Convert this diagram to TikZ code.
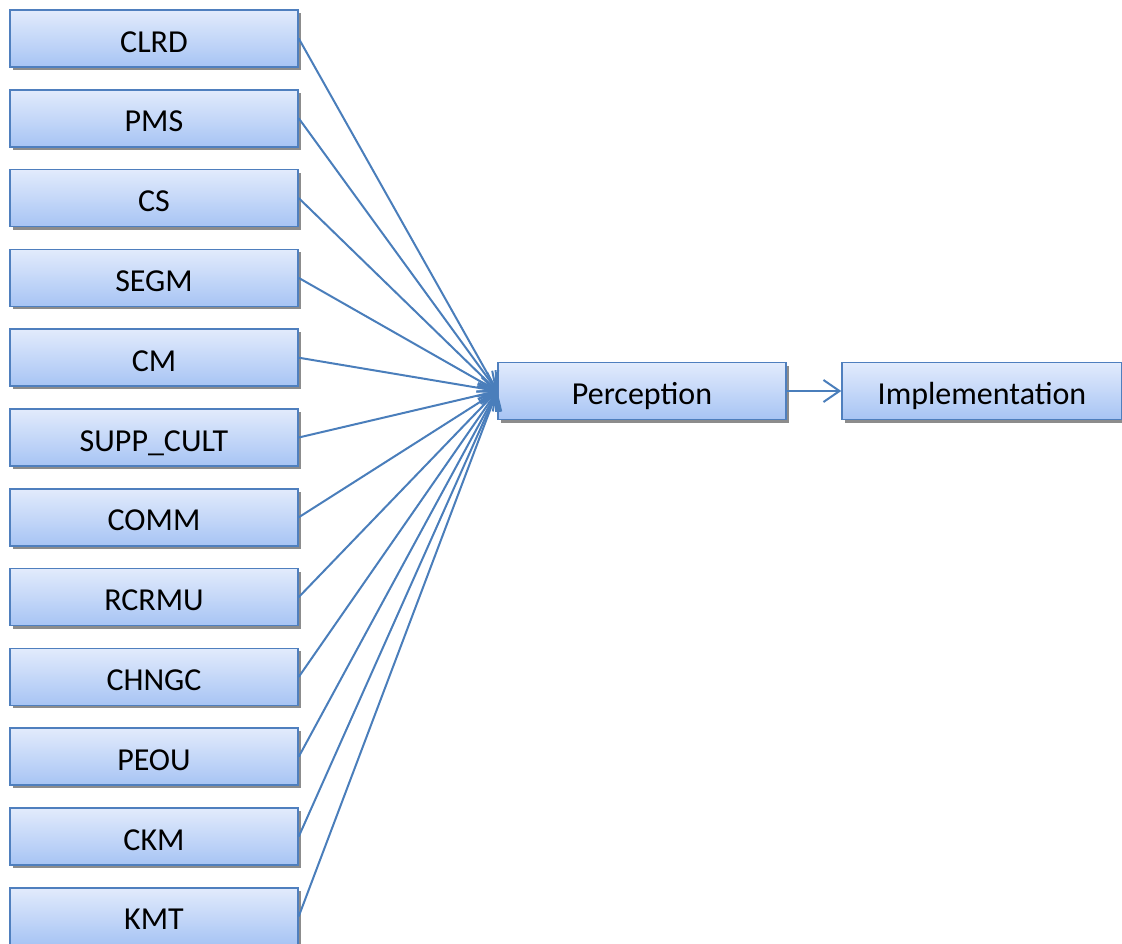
\documentclass[tikz,border=0pt]{standalone}
\usepackage{fontspec}
\setmainfont{Carlito}
\usetikzlibrary{arrows.meta,shadows}
\definecolor{boxtop}{HTML}{E2EBFC}
\definecolor{boxbot}{HTML}{A7C4F4}
\definecolor{boxline}{HTML}{4F7FBE}
\definecolor{linkline}{HTML}{4A7EBB}
\begin{document}
\begin{tikzpicture}[x=1pt,y=-1pt,
  factor/.style={draw=boxline, line width=1.5pt, top color=boxtop, bottom color=boxbot,
    minimum width=288pt, minimum height=57pt, inner sep=0pt, text depth=0pt, text height=0pt,
    font=\fontsize{32}{36}\selectfont,
    drop shadow={shadow xshift=3pt, shadow yshift=-3pt, fill=black!45, opacity=1}},
  link/.style={draw=linkline, line width=2pt, -{Straight Barb[length=16pt,width=22pt,line width=2pt]}}]
\useasboundingbox (0,0) rectangle (1122,943);
% input factors down the left column
\foreach \name [count=\i from 0] in {CLRD,PMS,CS,SEGM,CM,SUPP\_CULT,COMM,RCRMU,CHNGC,PEOU,CKM,KMT}{
  \node[factor] (f\i) at (154,{38.5+79.8*\i}) {\raisebox{-13.5pt}{\name}};
}
\node[factor] (perc) at (642,391) {\raisebox{-13.5pt}{Perception}};
\node[factor, minimum width=280pt] (impl) at (982,391) {\raisebox{-13.5pt}{Implementation}};
\foreach \i in {0,...,11}{
  \draw[link] (f\i.east) -- (perc.west);
}
\draw[link] (perc.east) -- (impl.west);
\end{tikzpicture}
\end{document}
